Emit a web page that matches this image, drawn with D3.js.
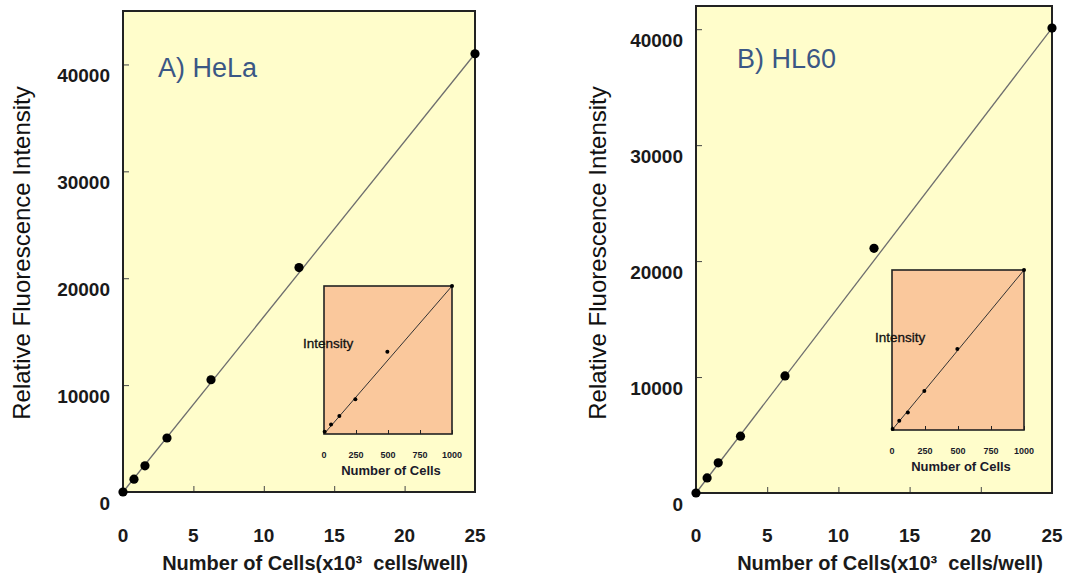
<!DOCTYPE html>
<html>
<head>
<meta charset="utf-8">
<script src="https://cdn.jsdelivr.net/npm/d3@7.9.0/dist/d3.min.js"></script>
<style>
  body { margin: 0; background: #fff; }
  svg { display: block; font-family: "Liberation Sans", Arial, sans-serif; }
</style>
</head>
<body>
<svg id="chart" width="1068" height="573"></svg>
<script>
// cells per well, x10^3 (two-fold dilution series)
const cellsK = [0, 0.78, 1.56, 3.125, 6.25, 12.5, 25];
const helaIntensity = [0, 1200, 2450, 5050, 10500, 21000, 41000];
const hl60Intensity = [0, 1300, 2600, 4900, 10100, 21100, 40100];

const fitX = [0, 25];
const helaFit = [0, 41000];
const hl60Fit = [0, 40100];

const xTicks = [0, 5, 10, 15, 20, 25];
const yTicks = [0, 10000, 20000, 30000, 40000];

// insets: low cell numbers, relative units
const insetCells = [5, 55, 120, 245, 495, 1000];
const helaInset = [16, 65, 121, 234, 555, 1000];
const hl60Inset = [6, 58, 110, 244, 506, 1000];
const insetTicks = [0, 250, 500, 750, 1000];

const panels = [
  {
    label: 'A) HeLa', x0: 123, x1: 475, y0: 11, y1: 492, yMax: 45000,
    values: helaIntensity, fit: helaFit, titleX: 158, titleY: 77, yTitleX: 30,
    inset: { x0: 324, x1: 452, y0: 286, y1: 434, values: helaInset, labDx: -21, labDy: 57 }
  },
  {
    label: 'B) HL60', x0: 696, x1: 1052, y0: 6, y1: 493, yMax: 42000,
    values: hl60Intensity, fit: hl60Fit, titleX: 737, titleY: 68, yTitleX: 606,
    inset: { x0: 892, x1: 1024, y0: 270, y1: 430, values: hl60Inset, labDx: -17, labDy: 67 }
  }
];

const svg = d3.select('#chart');

function drawPanel(p) {
  const g = svg.append('g');
  const x = d3.scaleLinear().domain([0, 25]).range([p.x0, p.x1]);
  const y = d3.scaleLinear().domain([0, p.yMax]).range([p.y1, p.y0]);

  g.append('rect')
    .attr('x', p.x0).attr('y', p.y0)
    .attr('width', p.x1 - p.x0).attr('height', p.y1 - p.y0)
    .attr('fill', '#FFFDCB');

  // inward ticks, labels placed by hand below
  g.append('g')
    .attr('transform', `translate(0,${p.y1})`)
    .call(d3.axisBottom(x).tickValues(xTicks).tickSize(-6).tickFormat(''))
    .call((a) => a.select('.domain').remove())
    .selectAll('line').attr('stroke', '#444');

  g.append('g')
    .attr('transform', `translate(${p.x0},0)`)
    .call(d3.axisLeft(y).tickValues(yTicks).tickSize(-6).tickFormat(''))
    .call((a) => a.select('.domain').remove())
    .selectAll('line').attr('stroke', '#444');

  g.selectAll('.xlab')
    .data(xTicks)
    .join('text')
    .attr('x', (d) => x(d)).attr('y', 535).attr('dy', '0.35em')
    .attr('text-anchor', 'middle')
    .attr('font-size', 19).attr('font-weight', 'bold').attr('fill', '#1a1a1a')
    .text((d) => d);

  g.selectAll('.ylab')
    .data(yTicks)
    .join('text')
    .attr('x', p.x0 - 13).attr('y', (d) => y(d) + 11).attr('dy', '0.35em')
    .attr('text-anchor', 'end')
    .attr('font-size', 19).attr('font-weight', 'bold').attr('fill', '#1a1a1a')
    .text((d) => d);

  g.append('text')
    .attr('x', (p.x0 + p.x1) / 2 + 16).attr('y', 563).attr('dy', '0.35em')
    .attr('text-anchor', 'middle')
    .attr('font-size', 20).attr('font-weight', 'bold').attr('fill', '#1a1a1a')
    .style('white-space', 'pre')
    .text('Number of Cells(x10\u00B3  cells/well)');

  g.append('text')
    .attr('transform', `translate(${p.yTitleX},253) rotate(-90)`)
    .attr('text-anchor', 'middle')
    .attr('font-size', 24).attr('fill', '#111')
    .text('Relative Fluorescence Intensity');

  g.append('text')
    .attr('x', p.titleX).attr('y', p.titleY)
    .attr('font-size', 27).attr('fill', '#3B5785')
    .text(p.label);

  drawInset(g, p.inset);

  const line = d3.line().x((d) => x(d[0])).y((d) => y(d[1]));
  g.append('path')
    .attr('d', line(d3.zip(fitX, p.fit)))
    .attr('fill', 'none').attr('stroke', '#6e6e6e').attr('stroke-width', 1.3);

  g.append('rect')
    .attr('x', p.x0).attr('y', p.y0)
    .attr('width', p.x1 - p.x0).attr('height', p.y1 - p.y0)
    .attr('fill', 'none').attr('stroke', '#222').attr('stroke-width', 2);

  g.selectAll('.pt')
    .data(d3.zip(cellsK, p.values))
    .join('circle')
    .attr('cx', (d) => x(d[0])).attr('cy', (d) => y(d[1]))
    .attr('r', 4.6).attr('fill', '#000');
}

function drawInset(g, ins) {
  const x = d3.scaleLinear().domain([0, 1000]).range([ins.x0, ins.x1]);
  const y = d3.scaleLinear().domain([0, 1000]).range([ins.y1, ins.y0]);

  g.append('rect')
    .attr('x', ins.x0).attr('y', ins.y0)
    .attr('width', ins.x1 - ins.x0).attr('height', ins.y1 - ins.y0)
    .attr('fill', '#FAC89C').attr('stroke', '#222').attr('stroke-width', 1.6);

  g.append('g')
    .attr('transform', `translate(0,${ins.y1})`)
    .call(d3.axisBottom(x).tickValues(insetTicks).tickSize(-4).tickFormat(''))
    .call((a) => a.select('.domain').remove())
    .selectAll('line').attr('stroke', '#222');

  g.selectAll('.ilab')
    .data(insetTicks)
    .join('text')
    .attr('x', (d) => x(d)).attr('y', ins.y1 + 21).attr('dy', '0.35em')
    .attr('text-anchor', 'middle')
    .attr('font-size', 9).attr('font-weight', 'bold').attr('fill', '#1a1a2a')
    .text((d) => d);

  g.append('text')
    .attr('x', (ins.x0 + ins.x1) / 2 + 3).attr('y', ins.y1 + 36).attr('dy', '0.35em')
    .attr('text-anchor', 'middle')
    .attr('font-size', 13).attr('font-weight', 'bold').attr('fill', '#1a1a2a')
    .text('Number of Cells');

  g.append('text')
    .attr('x', ins.x0 + ins.labDx).attr('y', ins.y0 + ins.labDy).attr('dy', '0.35em')
    .attr('font-size', 13.5).attr('fill', '#111')
    .attr('stroke', '#111').attr('stroke-width', 0.3)
    .text('Intensity');

  g.append('line')
    .attr('x1', x(0)).attr('y1', y(0)).attr('x2', x(1000)).attr('y2', y(1000))
    .attr('stroke', '#333').attr('stroke-width', 1);

  g.selectAll('.ipt')
    .data(d3.zip(insetCells, ins.values))
    .join('circle')
    .attr('cx', (d) => x(d[0])).attr('cy', (d) => y(d[1]))
    .attr('r', 2).attr('fill', '#000');
}

panels.forEach(drawPanel);
</script>
</body>
</html>
